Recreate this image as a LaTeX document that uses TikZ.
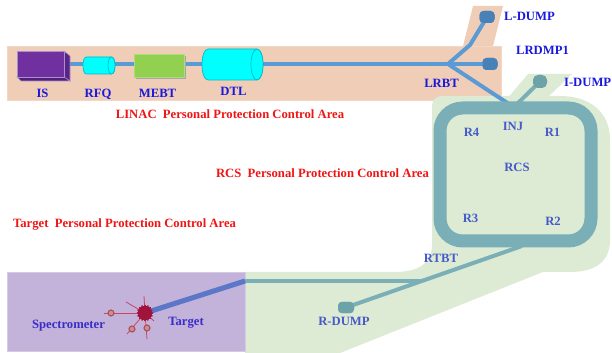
\documentclass[tikz,border=0pt]{standalone}
\usepackage{fontspec}
\setmainfont{Liberation Serif}
\usetikzlibrary{shapes.geometric}

% palette
\definecolor{linacbg}{RGB}{240,205,182}
\definecolor{rcsbg}{RGB}{221,235,212}
\definecolor{tgtbg}{RGB}{195,178,218}
\definecolor{beamblue}{RGB}{91,155,213}
\definecolor{dumpblue}{RGB}{72,128,184}
\definecolor{ringteal}{RGB}{123,175,184}
\definecolor{dumpteal}{RGB}{108,163,168}
\definecolor{tgtblue}{RGB}{92,118,200}
\definecolor{tgtred}{RGB}{160,20,60}
\definecolor{spokecol}{RGB}{200,70,100}
\definecolor{labblue}{RGB}{25,25,220}
\definecolor{ringlab}{RGB}{70,90,200}
\definecolor{tgtlab}{RGB}{60,45,200}
\definecolor{areared}{RGB}{240,20,20}
\definecolor{ispurple}{RGB}{112,48,160}
\definecolor{isside}{RGB}{90,35,135}
\definecolor{isedge}{RGB}{165,145,205}
\definecolor{cyanfill}{RGB}{0,255,255}
\definecolor{cyanedge}{RGB}{0,185,200}
\definecolor{mebtgreen}{RGB}{146,208,80}
\definecolor{mebtedge}{RGB}{175,220,125}
\definecolor{detring}{RGB}{170,80,70}
\definecolor{detfill}{RGB}{200,140,160}

\tikzset{
  lbl/.style={font=\fontsize{9.5}{10}\selectfont\bfseries, inner sep=0pt, text depth=0pt},
  complbl/.style={lbl, text=labblue},
  ringlbl/.style={lbl, text=ringlab},
  tgtlbl/.style={lbl, text=tgtlab},
  arealbl/.style={lbl, text=areared},
  linacbeam/.style={draw=beamblue, line width=3pt},
  ringbeam/.style={draw=ringteal, line width=3pt},
  dumpB/.style={fill=dumpblue, rounded corners=3pt, minimum width=11.25pt, minimum height=9pt, inner sep=0pt},
  dumpT/.style={fill=dumpteal, rounded corners=3pt, minimum width=12pt, minimum height=8.5pt, inner sep=0pt},
  detector/.style={circle, draw=detring, fill=detfill, line width=0.8pt, minimum size=4.5pt, inner sep=0pt},
  spokeline/.style={draw=spokecol, line width=0.6pt},
  cylinder body/.style={fill=cyanfill, draw=cyanedge, line width=0.5pt},
  tgtstar/.style={star, star points=16, star point ratio=1.25, minimum size=12.5pt, inner sep=0pt, fill=tgtred},
}

\begin{document}
\begin{tikzpicture}[x=0.75pt, y=-0.75pt]
\useasboundingbox (0,0) rectangle (612,353);

% ---------- protection areas ----------
% linac area with the L-DUMP leg
\fill[linacbg] (473,6) -- (503,6) -- (493,46) -- (463,46) -- cycle;
\fill[linacbg, draw=linacbg!80!white] (7,46) rectangle (501,100);
% ring and transport area
\fill[rcsbg] (528,74) -- (572,74) -- (545,100) -- (506,100) -- cycle;
\fill[rcsbg] (442,96) -- (560,96) .. controls (590,96) and (610,112) .. (610,140)
  -- (610,240) .. controls (610,262) and (595,272) .. (570,272) -- (543,272)
  -- (340,353) -- (245,353) -- (245,272) -- (395,272)
  .. controls (420,272) and (432,262) .. (432,245)
  -- (432,106) .. controls (432,100) and (436,96) .. (442,96) -- cycle;
% target area
\fill[tgtbg, draw=tgtbg!70!white] (7,272) rectangle (245,351);

% ---------- linac ----------
\coordinate (isout) at (64,64);
\coordinate (jct) at (448,64);
\coordinate (bend) at (470,45);
\coordinate (inj) at (512,106);
\coordinate (injd) at (517,104);
\draw[linacbeam] (isout) -- (jct);

% ion source box
\fill[isside, draw=isedge, line width=0.4pt] (64,51) -- (70,56) -- (70,81) -- (64,77) -- cycle;
\fill[isside!90!black, draw=isedge, line width=0.4pt] (17,77) -- (21,81) -- (70,81) -- (64,77) -- cycle;
\fill[ispurple, draw=isedge, line width=0.4pt] (17,51) rectangle (64,77);

% RFQ cylinder
\path[cylinder body] (86.5,57) -- (111.5,57) .. controls (116.2,57) and (116.2,74) .. (111.5,74)
  -- (86.5,74) .. controls (81.8,74) and (81.8,57) .. cycle;
\path[cylinder body] (111.5,65.5) ellipse [x radius=2.6pt, y radius=6.4pt];

% MEBT block with its shadow
\fill[black!35] (136,56) rectangle (186,79);
\fill[mebtgreen, draw=mebtedge, line width=0.5pt] (134,54) rectangle (184,77);

% DTL cylinder
\path[cylinder body] (208,49) -- (257,49) .. controls (265,49) and (265,80) .. (257,80)
  -- (208,80) .. controls (200,80) and (200,49) .. cycle;
\path[cylinder body] (257,64.5) ellipse [x radius=4.5pt, y radius=11.6pt];

% LRBT branches and linac dumps
\node[dumpB] (ldump) at (487,17) {};
\node[dumpB] (lrdmp) at (490,64) {};
\draw[linacbeam, line join=round] (jct) -- (bend) -- (ldump.center);
\draw[linacbeam] (jct) -- (lrdmp.center);
\draw[linacbeam] (jct) -- (inj);
\node[dumpB] at (ldump) {};
\node[dumpB] at (lrdmp) {};

% ---------- ring ----------
\node[dumpT, minimum width=10.5pt, minimum height=9.75pt, rounded corners=4pt] (idump) at (540,81.5) {};
\draw[ringbeam] (idump.center) -- (injd);
\node[dumpT, minimum width=10.5pt, minimum height=9.75pt, rounded corners=4pt] at (idump) {};

\coordinate (ext) at (522,246);
\coordinate (tbr) at (422,281);
\coordinate (tw) at (245,281);
\node[dumpT] (rdump) at (346,307.5) {};
\draw[ringbeam] (ext) -- (rdump.center);
\node[dumpT] at (rdump) {};
\draw[ringbeam] (tbr) -- (tw);

\draw[draw=ringteal, line width=9.75pt, rounded corners=17pt] (440,108) rectangle (591,241);

% ---------- target station ----------
\node[tgtstar] (tgt) at (145,313) {};
\draw[draw=tgtblue, line width=3.8pt] (tgt.center) -- (tw);
\coordinate (sp1) at (104,313);
\coordinate (sp2) at (126,302);
\coordinate (sp3) at (144,296);
\coordinate (sp4) at (127,334);
\coordinate (sp5) at (147,339);
\coordinate (sp6) at (154,321);
\foreach \e in {sp1,sp2,sp3,sp4,sp5,sp6} \draw[spokeline] (tgt.center) -- (\e);
\node[tgtstar] at (tgt) {};
\node[detector] (det1) at (111,313) {};
\node[detector] (det2) at (132,329) {};
\node[detector] (det3) at (147,328) {};

% ---------- labels ----------
\node[complbl] (lIS) at (42.5,93) {IS};
\node[complbl] (lRFQ) at (98,93) {RFQ};
\node[complbl] (lMEBT) at (157.5,93) {MEBT};
\node[complbl] (lDTL) at (233.5,91.5) {DTL};
\node[complbl] (lLDUMP) at (529.5,16.5) {L-DUMP};
\node[complbl] (lLRDMP) at (542.5,50.5) {LRDMP1};
\node[complbl] (lLRBT) at (441.5,83.5) {LRBT};
\node[complbl, anchor=east] (lIDUMP) at (611.5,82) {I-DUMP};

\node[ringlbl] (lINJ) at (513,126.5) {INJ};
\node[ringlbl] (lR4) at (471.5,132.5) {R4};
\node[ringlbl] (lR1) at (552.5,132.5) {R1};
\node[ringlbl] (lRCS) at (517,167) {RCS};
\node[ringlbl] (lR3) at (470.5,218) {R3};
\node[ringlbl] (lR2) at (553,221.5) {R2};
\node[ringlbl] (lRTBT) at (441,258) {RTBT};
\node[ringlbl] (lRDUMP) at (344,321) {R-DUMP};

\node[tgtlbl] (lSpec) at (68.5,324) {Spectrometer};
\node[tgtlbl] (lTgt) at (186,321.5) {Target};

\node[arealbl] (aLinac) at (230,114) {LINAC\ \ Personal Protection Control Area};
\node[arealbl] (aRCS) at (322.5,173) {RCS\ \ Personal Protection Control Area};
\node[arealbl] (aTgt) at (124.5,223) {Target\ \ Personal Protection Control Area};
\end{tikzpicture}
\end{document}
